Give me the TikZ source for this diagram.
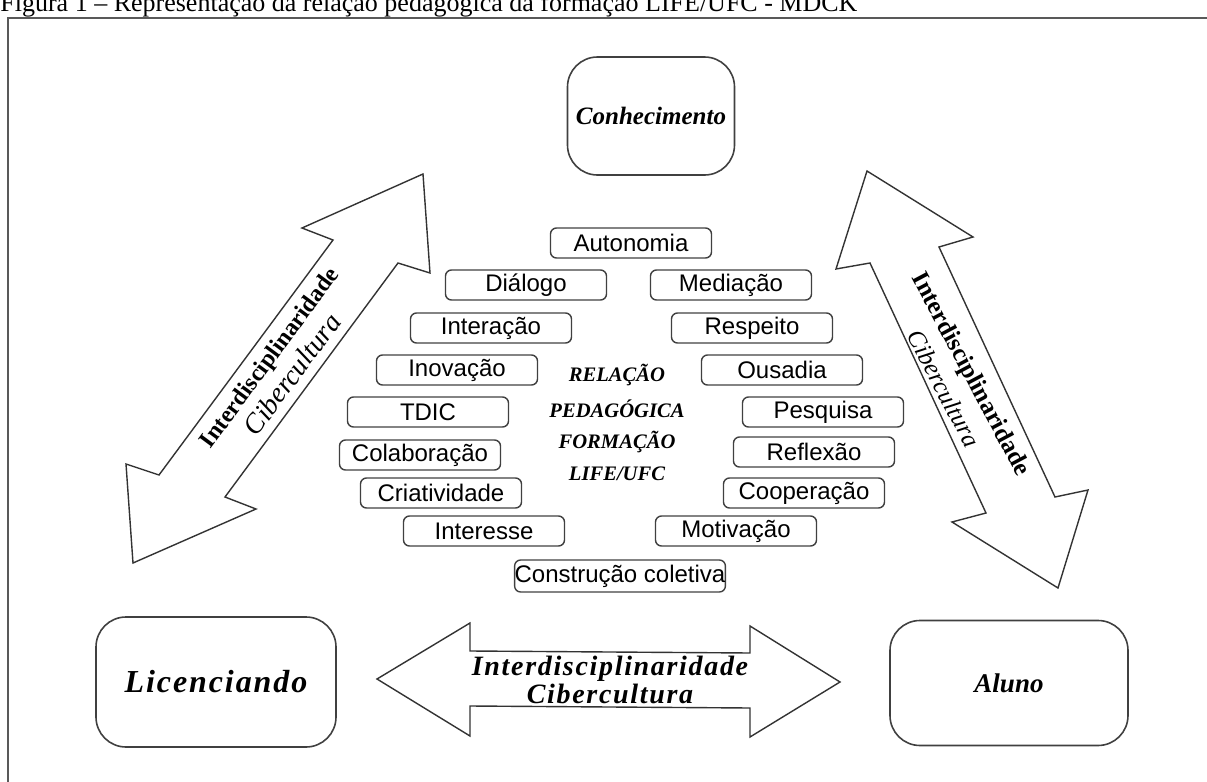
\documentclass[tikz,border=0pt]{standalone}
\usepackage{fontspec}
\setmainfont{Liberation Serif}
\setsansfont{Liberation Sans}
\newfontfamily\spacedfont[LetterSpace=6]{Liberation Serif}
\usepackage{tikz}
\pgfdeclarelayer{bg}
\pgfsetlayers{bg,main}

\begin{document}
\begin{tikzpicture}[x=0.5pt, y=-0.5pt,
        wordbox/.style={draw=black!75, line width=0.7pt, rounded corners=3pt,
                minimum width=80.5pt, minimum height=15pt, inner sep=0pt,
                font=\sffamily\fontsize{12}{14}\selectfont},
        bigbox/.style={draw=black!75, line width=0.8pt, rounded corners=15pt,
                inner sep=0pt, font=\bfseries\itshape\fontsize{#1}{#1}\selectfont},
        centre/.style={inner sep=0pt, font=\bfseries\itshape\fontsize{10.3}{11}\selectfont},
        blockarrow/.style={draw=black!80, line width=0.7pt, fill=white}]
        \useasboundingbox (0,0) rectangle (1207,782);
        \clip (0,0) rectangle (1207,782);
        \node (caption) [anchor=base west, inner sep=0pt, font=\fontsize{13}{13}\selectfont] at (0,11)
                {Figura 1 -- Representação da relação pedagógica da formação LIFE/UFC - MDCK};
        % three corners
        \node (conhecimento) [bigbox=12.5, minimum width=83.5pt, minimum height=59pt] at (651,116) {Conhecimento};
        \node (licenciando) [bigbox=16, minimum width=120pt, minimum height=65pt] at (216,682) {\spacedfont\bfseries\itshape Licenciando};
        \node (aluno) [bigbox=13.5, minimum width=119pt, minimum height=62.5pt] at (1009,683) {Aluno};
        % words round the centre
        \node (autonomia) [wordbox] at (631,243) {Autonomia};
        \node (dialogo) [wordbox] at (526,285) {Diálogo};
        \node (mediacao) [wordbox] at (731,285) {Mediação};
        \node (interacao) [wordbox] at (491,328) {Interação};
        \node (respeito) [wordbox] at (752,328) {Respeito};
        \node (inovacao) [wordbox] at (457,370) {Inovação};
        \node (ousadia) [wordbox] at (782,370) {Ousadia};
        \node (tdic) [wordbox] at (428,412) {TDIC};
        \node (pesquisa) [wordbox] at (823,412) {Pesquisa};
        \node (colaboracao) [wordbox] at (420,455) {Colaboração};
        \node (reflexao) [wordbox] at (814,452) {Reflexão};
        \node (criatividade) [wordbox] at (441,493) {Criatividade};
        \node (cooperacao) [wordbox] at (804,493) {Cooperação};
        \node (interesse) [wordbox] at (484,531) {Interesse};
        \node (motivacao) [wordbox] at (736,531) {Motivação};
        \node (construcao) [wordbox, minimum width=103.5pt, minimum height=16pt] at (620,576) {Construção coletiva};
        \node (rel) [centre] at (617,375) {RELAÇÃO};
        \node (ped) [centre] at (617,409) {PEDAGÓGICA};
        \node (form) [centre] at (617,442) {FORMAÇÃO};
        \node (life) [centre] at (617,474) {LIFE/UFC};
        % labels on the block arrows
        \node (leftlabel) [rotate=53.5, align=center, inner sep=0pt, font=\fontsize{12}{15}\selectfont] at (281,366)
                {\bfseries Interdisciplinaridade\\\itshape\fontsize{14}{15}\selectfont Cibercultura};
        \node (rightlabel) [rotate=-62, align=center, inner sep=0pt, font=\fontsize{12.5}{16}\selectfont] at (958,381)
                {\bfseries Interdisciplinaridade\\\itshape Cibercultura};
        \node (bottomlabel) [align=center, inner sep=0pt, font=\spacedfont\bfseries\itshape\fontsize{14}{12}\selectfont] at (610,680)
                {Interdisciplinaridade\\Cibercultura};
        \begin{pgfonlayer}{bg}
                \draw [black!65, line width=0.7pt] (8,782) -- (8,18) -- (1207,18);
                \draw [blockarrow] (423,174) -- (430,273) -- (398,263) -- (225,497) -- (256,509) -- (133,563)
                        -- (126,464) -- (159,475) -- (333,240) -- (302,228) -- cycle;
                \draw [blockarrow] (867,171) -- (973,237) -- (939,247) -- (1055,497) -- (1088,490) -- (1058,588)
                        -- (952,522) -- (986,513) -- (870,263) -- (836,269) -- cycle;
                \draw [blockarrow] (377,679) -- (470,623) -- (470,651) -- (750,653) -- (750,626) -- (840,682)
                        -- (750,737) -- (750,708) -- (470,706) -- (470,736) -- cycle;
        \end{pgfonlayer}
\end{tikzpicture}
\end{document}
